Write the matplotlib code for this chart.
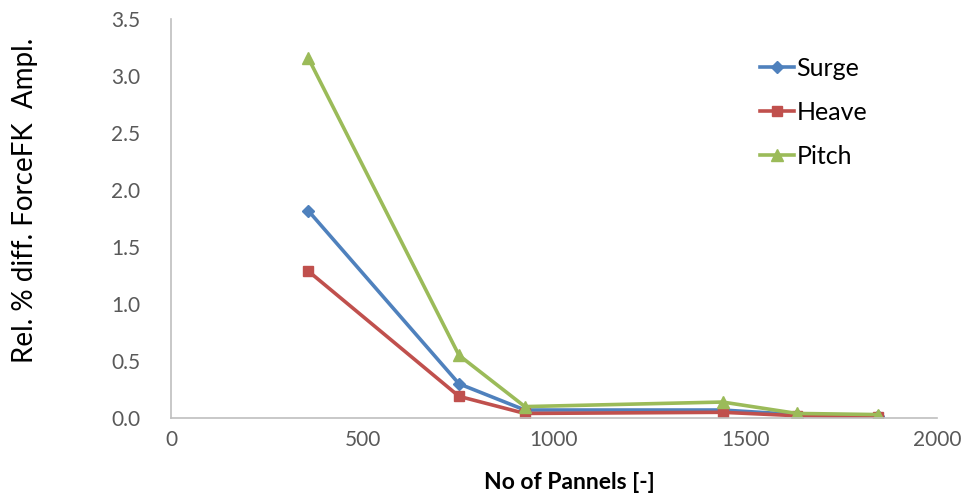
import matplotlib.pyplot as plt

# Mesh convergence data: relative % difference in Froude-Krylov force amplitude
panels = [358, 752, 924, 1440, 1634, 1846]
surge = [1.82, 0.30, 0.07, 0.07, 0.03, 0.02]
heave = [1.29, 0.19, 0.04, 0.05, 0.02, 0.01]
pitch = [3.16, 0.55, 0.10, 0.14, 0.04, 0.03]

plt.rcParams['font.family'] = ['Lato', 'DejaVu Sans']

fig = plt.figure(figsize=(9.65, 5), dpi=100)
ax = fig.add_axes([171 / 965, 82 / 500, 766 / 965, 399 / 500])

ax.plot(panels, surge, color='#4F81BD', lw=2.6, marker='D', ms=6.5, label='Surge')
ax.plot(panels, heave, color='#C0504D', lw=2.6, marker='s', ms=7, label='Heave')
ax.plot(panels, pitch, color='#9BBB59', lw=2.6, marker='^', ms=8, label='Pitch')

ax.set_xlim(0, 2000)
ax.set_ylim(0, 3.5)
ax.set_xticks([0, 500, 1000, 1500, 2000])
ax.set_yticks([0, 0.5, 1.0, 1.5, 2.0, 2.5, 3.0, 3.5])
ax.set_yticklabels([f'{v:.1f}' for v in ax.get_yticks()])

for s in ['top', 'right']:
    ax.spines[s].set_visible(False)
for s in ['left', 'bottom']:
    ax.spines[s].set_color('#BFBFBF')
    ax.spines[s].set_linewidth(1.2)

ax.tick_params(length=0, labelsize=15, labelcolor='#595959')
ax.tick_params(axis='x', pad=9)
ax.tick_params(axis='y', pad=22)

ax.set_xlabel('No of Pannels [-]', fontsize=16.5, fontweight='bold')
ax.xaxis.set_label_coords(0.52, -0.135)
ax.set_ylabel('Rel. % diff. ForceFK  Ampl.', fontsize=20)
ax.yaxis.set_label_coords(-0.174, 0.545)

ax.legend(loc='upper left', bbox_to_anchor=(0.74, 0.962), frameon=False,
          fontsize=18, labelspacing=0.84, handlelength=1.35, handletextpad=0.1)

fig.savefig('out.png', dpi=100)
